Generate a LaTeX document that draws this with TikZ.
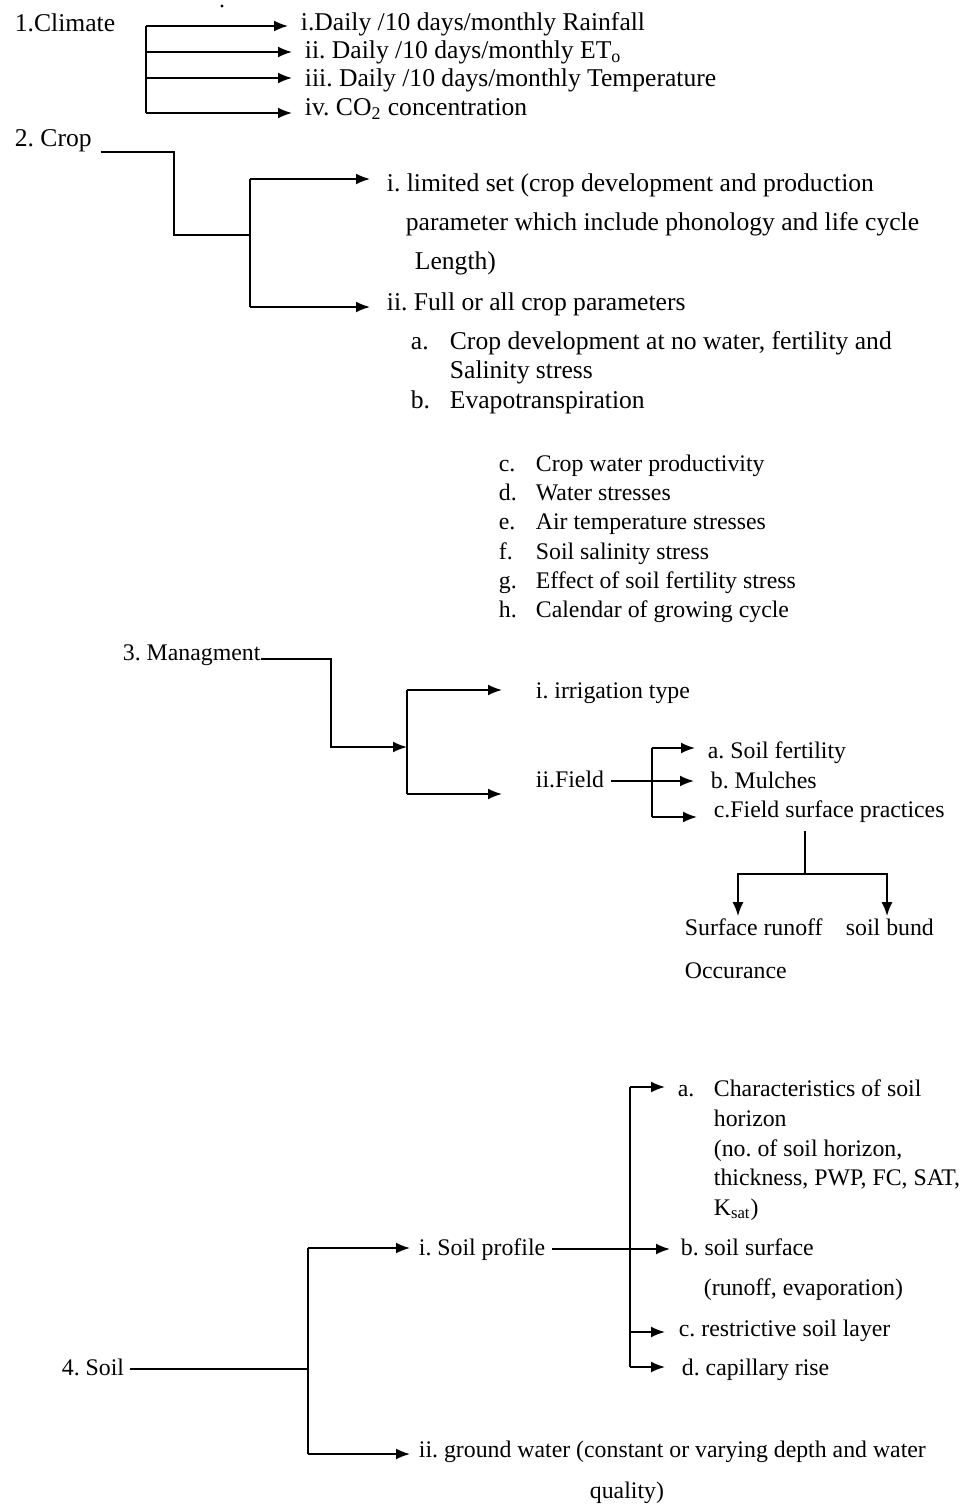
\documentclass[tikz,border=0pt]{standalone}
\usepackage{fontspec}
\setmainfont{Liberation Serif}
\usetikzlibrary{arrows.meta}
\frenchspacing

\begin{document}
\begin{tikzpicture}[
            x = 0.5pt, y = -0.5pt, % one unit = one pixel of the page
            > = {Latex[length=7pt,width=5.5pt]}, % arrow head style
            line width = 0.9pt,
            txt/.style = {anchor=west, inner sep=0pt, text height=9pt, text depth=3pt,
                          font=\fontsize{11.9}{14}\selectfont},
            bigtxt/.style = {txt, font=\fontsize{12.8}{15}\selectfont},
            lnk/.style = {->, shorten >= #1}, % keep the tip off the text
            lnk/.default = 7pt
        ]

	\useasboundingbox (0,0) rectangle (971,1507);
	\fill (222,6) circle (0.8pt);

	% 1. climate
	\node[bigtxt] (clim) at (14,26) {1.Climate};
	\node[bigtxt] (cl1) at (300,25) {i.Daily /10 days/monthly Rainfall};
	\node[bigtxt] (cl2) at (304,53) {ii. Daily /10 days/monthly ET\textsubscript{o}};
	\node[bigtxt] (cl3) at (304,81) {iii. Daily /10 days/monthly Temperature};
	\node[bigtxt] (cl4) at (304,110) {iv. CO\textsubscript{2} concentration};

	\foreach \n/\y in {1/26,2/52,3/78,4/113}
		\coordinate (clb\n) at (146,\y);
	\draw (clb1) -- (clb4);
	\foreach \n in {1,...,4}
		\draw[lnk=6pt] (clb\n) -- (clb\n -| cl\n.west);

	% 2. crop
	\node[bigtxt] (crop) at (14,141) {2. Crop};
	\node[bigtxt] (cr1) at (386,186) {i. limited set (crop development and production};
	\node[bigtxt] (cr1b) at (405,225) {parameter which include phonology and life cycle};
	\node[bigtxt] (cr1c) at (414,264) {Length)};
	\node[bigtxt] (cr2) at (386,305) {ii. Full or all crop parameters};
	\node[bigtxt] (cpa) at (410,344) {a.};
	\node[bigtxt] (cpa1) at (449,344) {Crop development at no water, fertility and};
	\node[bigtxt] (cpa2) at (449,373) {Salinity stress};
	\node[bigtxt] (cpb) at (410,403) {b.};
	\node[bigtxt] (cpb1) at (449,403) {Evapotranspiration};
	\foreach \l/\t/\y in {c/Crop water productivity/466, d/Water stresses/495,
			e/Air temperature stresses/524, f/Soil salinity stress/553,
			g/Effect of soil fertility stress/582, h/Calendar of growing cycle/611} {
		\node[txt] (cp\l) at (498,\y) {\l.};
		\node[txt] (cp\l1) at (535,\y) {\t};
	}

	\coordinate (crk) at (174,235);
	\coordinate (crt) at (250,179);
	\coordinate (crb) at (250,307);
	\draw ([shift={(8,11)}]crop.east) -| (crk) -- (crk -| crt);
	\draw (crt) -- (crb);
	\draw[lnk=8pt] (crt) -- (crt -| cr1.west);
	\draw[lnk=8pt] (crb) -- (crb -| cr2.west);

	% 3. managment
	\node[txt] (mgmt) at (122,654) {3. Managment};
	\node[txt] (irr) at (535,692) {i. irrigation type};
	\node[txt] (fld) at (535,781) {ii.Field};
	\node[txt] (fa) at (707,752) {a. Soil fertility};
	\node[txt] (fb) at (710,782) {b. Mulches};
	\node[txt] (fc) at (713,811) {c.Field surface practices};
	\node[txt] (runoff) at (684,929) {Surface runoff};
	\node[txt] (bund) at (845,929) {soil bund};
	\node[txt] (occ) at (684,972) {Occurance};

	\coordinate (mgk) at (331,747);
	\coordinate (mgt) at (407,690);
	\coordinate (mgb) at (407,794);
	\draw[->] ([yshift=-2.5pt]mgmt.east) -| (mgk) -- (mgk -| mgt);
	\draw (mgt) -- (mgb);
	\draw[lnk=16.5pt] (mgt) -- (mgt -| irr.west);
	\draw[lnk=16.5pt] (mgb) -- (mgb -| fld.west);

	\coordinate (fdt) at (652,748);
	\coordinate (fdb) at (652,817);
	\draw (fdt) -- (fdb);
	\draw[lnk=6pt] (fdt) -- (fdt -| fa.west);
	\draw[lnk=8pt] ([xshift=3pt]fld.east) -- (fld.east -| fb.west);
	\draw[lnk=8pt] (fdb) -- (fdb -| fc.west);

	\coordinate (fork) at (805,874);
	\draw[shorten <=3.5pt] (fork |- fc.south) -- (fork);
	\draw[->] (fork) -| ([xshift=27pt]runoff.north west);
	\draw[->] (fork) -| ([xshift=21pt]bund.north west);

	% 4. soil
	\node[txt] (soil) at (61,1369) {4. Soil};
	\node[txt] (prof) at (418,1249) {i. Soil profile};
	\node[txt] (gw) at (418,1451) {ii. ground water (constant or varying depth and water};
	\node[txt] (gw2) at (589,1492) {quality)};
	\node[txt] (sa) at (677,1090) {a.};
	\node[txt] (sa1) at (713,1090) {Characteristics of soil};
	\node[txt] (sa2) at (713,1120) {horizon};
	\node[txt] (sa3) at (713,1150) {(no. of soil horizon,};
	\node[txt] (sa4) at (713,1179) {thickness, PWP, FC, SAT,};
	\node[txt] (sa5) at (713,1209) {K\textsubscript{sat})};
	\node[txt] (sb) at (680,1249) {b. soil surface};
	\node[txt] (sb1) at (703,1289) {(runoff, evaporation)};
	\node[txt] (sc) at (678,1330) {c. restrictive soil layer};
	\node[txt] (sd) at (681,1369) {d. capillary rise};

	\coordinate (slt) at (308,1248);
	\coordinate (slb) at (308,1454);
	\draw ([xshift=2.5pt]soil.east) -- (soil.east -| slt);
	\draw (slt) -- (slb);
	\draw[lnk=4pt] (slt) -- (slt -| prof.west);
	\draw[lnk=4pt] (slb) -- (slb -| gw.west);

	\coordinate (pft) at (630,1087);
	\coordinate (pfc) at (630,1332);
	\coordinate (pfb) at (630,1367);
	\draw (pft) -- (pfb);
	\draw[lnk=6pt] (pft) -- (pft -| sa.west);
	\draw[lnk=5pt] ([xshift=3pt]prof.east) -- (prof.east -| sb.west);
	\draw[lnk=6.5pt] (pfc) -- (pfc -| sc.west);
	\draw[lnk=8pt] (pfb) -- (pfb -| sd.west);

\end{tikzpicture}
\end{document}
